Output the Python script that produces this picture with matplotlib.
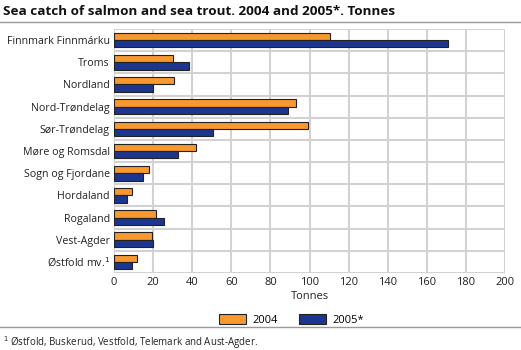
import matplotlib
matplotlib.use("Agg")
import matplotlib.pyplot as plt
import numpy as np

plt.rcParams["font.family"] = ["Open Sans", "DejaVu Sans"]

counties = [
    "Finnmark Finnmárku", "Troms", "Nordland", "Nord-Trøndelag", "Sør-Trøndelag",
    "Møre og Romsdal", "Sogn og Fjordane", "Hordaland", "Rogaland", "Vest-Agder",
    "Østfold mv.$^1$",
]
catch_2004 = [110.5, 30, 30.5, 93, 99, 42, 17.7, 9.4, 21.3, 19.3, 12]
catch_2005 = [171, 38.4, 20, 89, 50.5, 32.7, 14.7, 6.8, 25.7, 19.8, 9]
xticks = [0, 20, 40, 60, 80, 100, 120, 140, 160, 180, 200]

ORANGE = "#F7992F"
NAVY = "#1C3690"
GRID = "#D2D2D2"
TXT = "#222222"
FS = 7.7

fig = plt.figure(figsize=(5.21, 3.5), dpi=100)
ax = fig.add_axes([0.2188, 0.22, 0.7505, 0.697])

y = np.arange(len(counties))
h = 0.33
ax.barh(y - h / 2, catch_2004, height=h, color=ORANGE, edgecolor=TXT,
        linewidth=0.8, label="2004", zorder=3)
ax.barh(y + h / 2, catch_2005, height=h, color=NAVY, edgecolor=TXT,
        linewidth=0.8, label="2005*", zorder=3)

ax.set_ylim(len(counties) - 0.5, -0.5)
ax.set_xlim(0, 200)
ax.set_yticks(y)
ax.set_yticklabels(counties, fontsize=FS, color=TXT)
ax.set_xticks(xticks)
ax.set_xticklabels([str(t) for t in xticks], fontsize=FS + 0.3, color=TXT)
ax.tick_params(length=0, pad=3)

# grid: vertical at ticks, horizontal between categories
for t in xticks:
    ax.axvline(t, color=GRID, linewidth=1.5, zorder=1)
for b in np.arange(-0.5, len(counties), 1.0):
    ax.axhline(b, color=GRID, linewidth=1.5, zorder=1)
for s in ax.spines.values():
    s.set_visible(False)

ax.set_xlabel("Tonnes", fontsize=FS + 0.3, color=TXT, labelpad=2)
ax.legend(loc="upper center", bbox_to_anchor=(0.455, -0.135), ncol=2,
          frameon=False, fontsize=FS + 0.3, handlelength=2.4, handleheight=1.1,
          columnspacing=1.9, handletextpad=0.6, borderpad=0.2)

fig.text(0.006, 0.968, "Sea catch of salmon and sea trout. 2004 and 2005*. Tonnes",
         fontsize=9.7, fontweight="bold", va="center", ha="left", color="#111111")
fig.add_artist(plt.Line2D([0, 1], [0.937, 0.937], color="#999999", linewidth=1.0))
fig.add_artist(plt.Line2D([0, 1], [0.066, 0.066], color="#999999", linewidth=1.0))
fig.text(0.006, 0.022, "$^1$ Østfold, Buskerud, Vestfold, Telemark and Aust-Agder.",
         fontsize=7, va="center", ha="left", color=TXT)

fig.savefig("out.png", dpi=100)
